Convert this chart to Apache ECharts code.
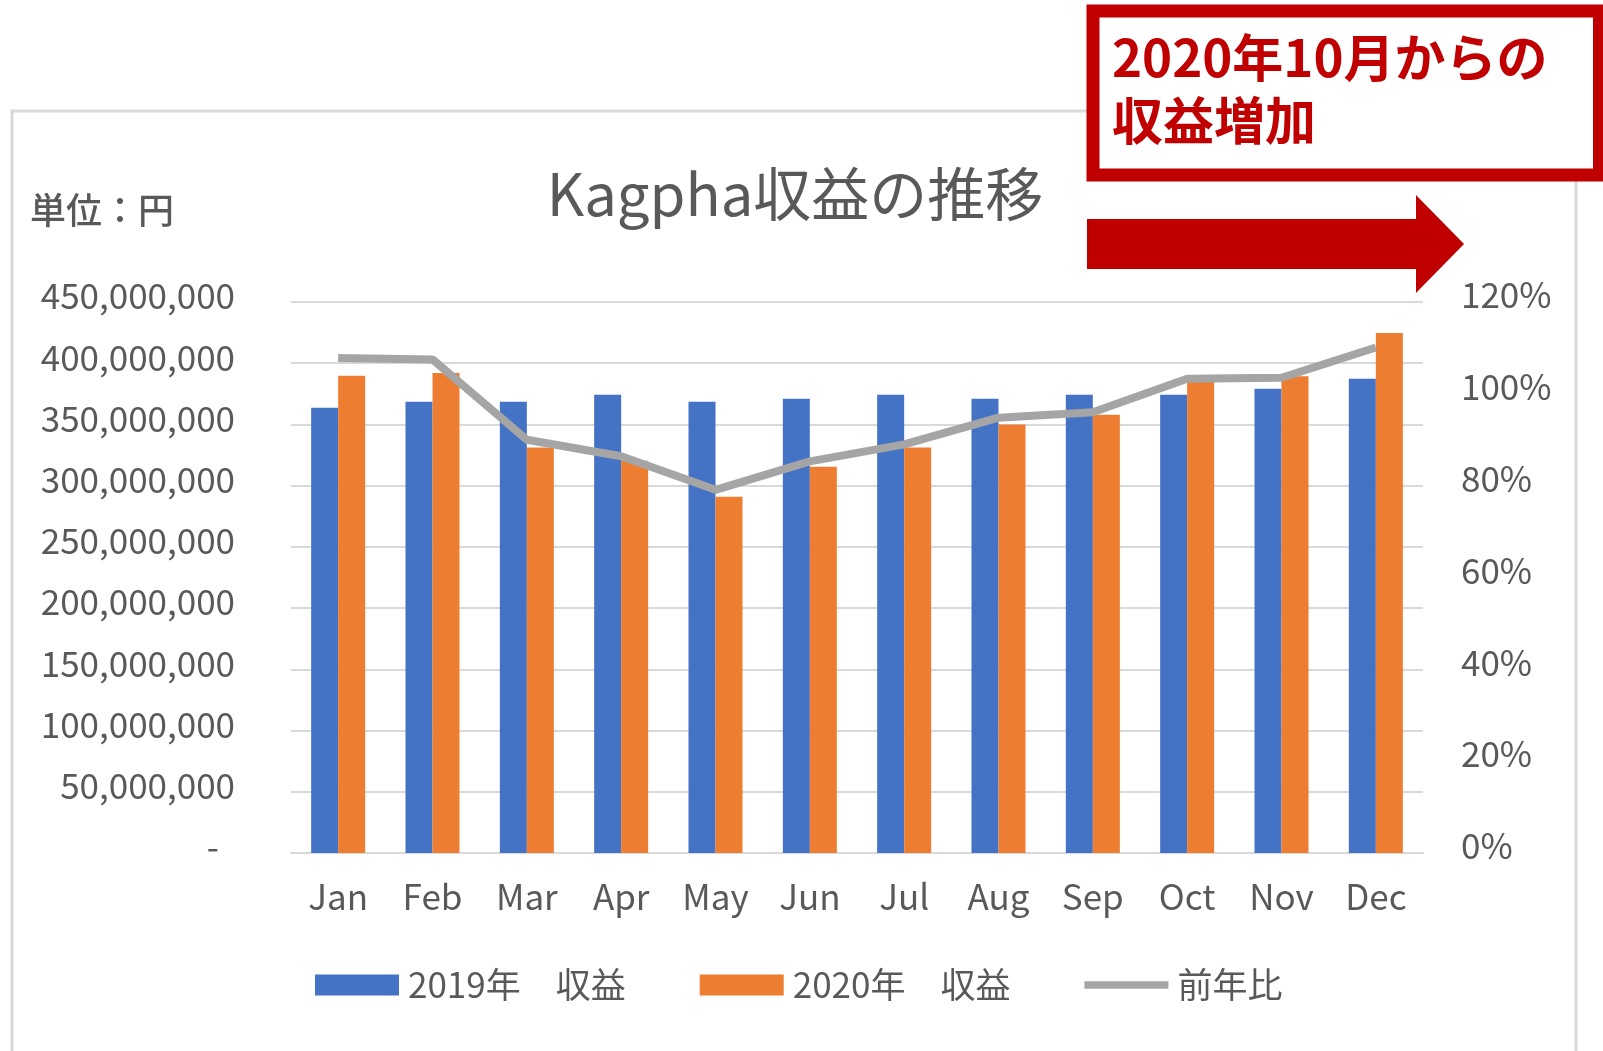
<!DOCTYPE html>
<html>
<head>
<meta charset="utf-8">
<script src="https://cdn.jsdelivr.net/npm/echarts@6/dist/echarts.min.js"></script>
<style>
  html, body { margin: 0; padding: 0; background: #fff; }
  #main { width: 1603px; height: 1051px; }
</style>
</head>
<body>
<div id="main"></div>
<script>
  // 月
  var months = ['Jan', 'Feb', 'Mar', 'Apr', 'May', 'Jun', 'Jul', 'Aug', 'Sep', 'Oct', 'Nov', 'Dec'];
  // 収益（円）
  var rev2019 = [363700000, 368600000, 368600000, 374300000, 368600000, 371000000,
                 374300000, 371000000, 374300000, 374300000, 379100000, 387300000];
  var rev2020 = [389700000, 392100000, 331200000, 320300000, 291000000, 315500000,
                 331200000, 349900000, 358000000, 385000000, 389400000, 424700000];
  // 前年比（%）
  var ratio = [107.8, 107.5, 90.0, 86.4, 79.1, 85.3, 89.0, 94.8, 96.0, 103.3, 103.5, 110.1];
  var seriesNames = ['2019年　収益', '2020年　収益', '前年比'];

  var font = '"Noto Sans CJK JP", "Noto Sans", sans-serif';
  var labelColor = '#595959';

  var myChart = echarts.init(document.getElementById('main'));
  var option = {
    backgroundColor: '#fff',
    textStyle: { fontFamily: font },
    grid: { left: 291, right: 180, top: 302, bottom: 198 },
    legend: {
      left: 310,
      top: 962,
      itemWidth: 84,
      itemHeight: 21,
      itemGap: 74,
      textStyle: { fontSize: 35, color: labelColor, fontFamily: font, lineHeight: 36, padding: [0, 0, 0, 4] },
      data: [
        { name: seriesNames[0], icon: 'rect' },
        { name: seriesNames[1], icon: 'rect' },
        { name: seriesNames[2], icon: 'path://M0,0H88V8H0Z' }
      ]
    },
    xAxis: {
      type: 'category',
      data: months,
      axisLine: { lineStyle: { color: '#d9d9d9', width: 2 } },
      axisTick: { show: false },
      axisLabel: { fontSize: 35, color: labelColor, margin: 26, fontFamily: font }
    },
    yAxis: [{
      type: 'value',
      min: 0,
      max: 450000000,
      interval: 50000000,
      axisLine: { show: false },
      axisTick: { show: false },
      splitLine: { lineStyle: { color: '#d9d9d9', width: 2 } },
      axisLabel: {
        fontSize: 35, color: labelColor, margin: 56, fontFamily: font,
        padding: [0, 0, 12, 0],
        formatter: function (v) {
          if (v === 0) return '{dash|-}';
          return v.toLocaleString('en-US');
        },
        rich: { dash: { fontSize: 35, color: labelColor, padding: [0, 16, 0, 0] } }
      }
    }, {
      type: 'value',
      min: 0,
      max: 120,
      interval: 20,
      axisLine: { show: false },
      axisTick: { show: false },
      splitLine: { show: false },
      axisLabel: {
        fontSize: 35, color: labelColor, margin: 38, fontFamily: font,
        padding: [0, 0, 14, 0],
        formatter: function (v) { return '{p|' + v + '%}'; },
        rich: { p: { fontSize: 35, color: labelColor, fontFamily: font } }
      }
    }],
    series: [{
      name: seriesNames[0],
      type: 'bar',
      data: rev2019,
      barWidth: 27,
      barGap: '0%',
      itemStyle: { color: '#4472C4' }
    }, {
      name: seriesNames[1],
      type: 'bar',
      data: rev2020,
      barWidth: 27,
      itemStyle: { color: '#ED7D31' }
    }, {
      name: seriesNames[2],
      type: 'line',
      yAxisIndex: 1,
      data: ratio,
      symbol: 'none',
      z: 5,
      lineStyle: { color: '#A5A5A5', width: 8 },
      itemStyle: { color: '#A5A5A5' }
    }],
    graphic: [{
      type: 'rect',
      z: 1,
      shape: { x: 12, y: 111, width: 1564, height: 1000 },
      style: { fill: 'none', stroke: '#d9d9d9', lineWidth: 3 }
    }, {
      type: 'text',
      z: 10,
      style: {
        x: 30, y: 210, text: '単位：円', fontSize: 36, fontWeight: 500,
        fill: labelColor, fontFamily: font, verticalAlign: 'middle'
      }
    }, {
      type: 'text',
      z: 10,
      style: {
        x: 795, y: 194, text: 'Kagpha収益の推移', fontSize: 58,
        fill: labelColor, fontFamily: font, align: 'center', verticalAlign: 'middle'
      }
    }, {
      type: 'rect',
      z: 20,
      shape: { x: 1093, y: 11, width: 506.5, height: 164 },
      style: { fill: '#fff', stroke: '#C00000', lineWidth: 13 }
    }, {
      type: 'text',
      z: 21,
      style: {
        x: 1112, y: 58, text: '2020年10月からの', fontSize: 51, fontWeight: 'bold',
        fill: '#C00000', fontFamily: font, verticalAlign: 'middle'
      }
    }, {
      type: 'text',
      z: 21,
      style: {
        x: 1112, y: 121, text: '収益増加', fontSize: 51, fontWeight: 'bold',
        fill: '#C00000', fontFamily: font, verticalAlign: 'middle'
      }
    }, {
      type: 'polygon',
      z: 20,
      shape: { points: [[1087, 219], [1416, 219], [1416, 195], [1464, 244], [1416, 293], [1416, 269], [1087, 269]] },
      style: { fill: '#C00000' }
    }]
  };
  myChart.setOption(option);
</script>
</body>
</html>
